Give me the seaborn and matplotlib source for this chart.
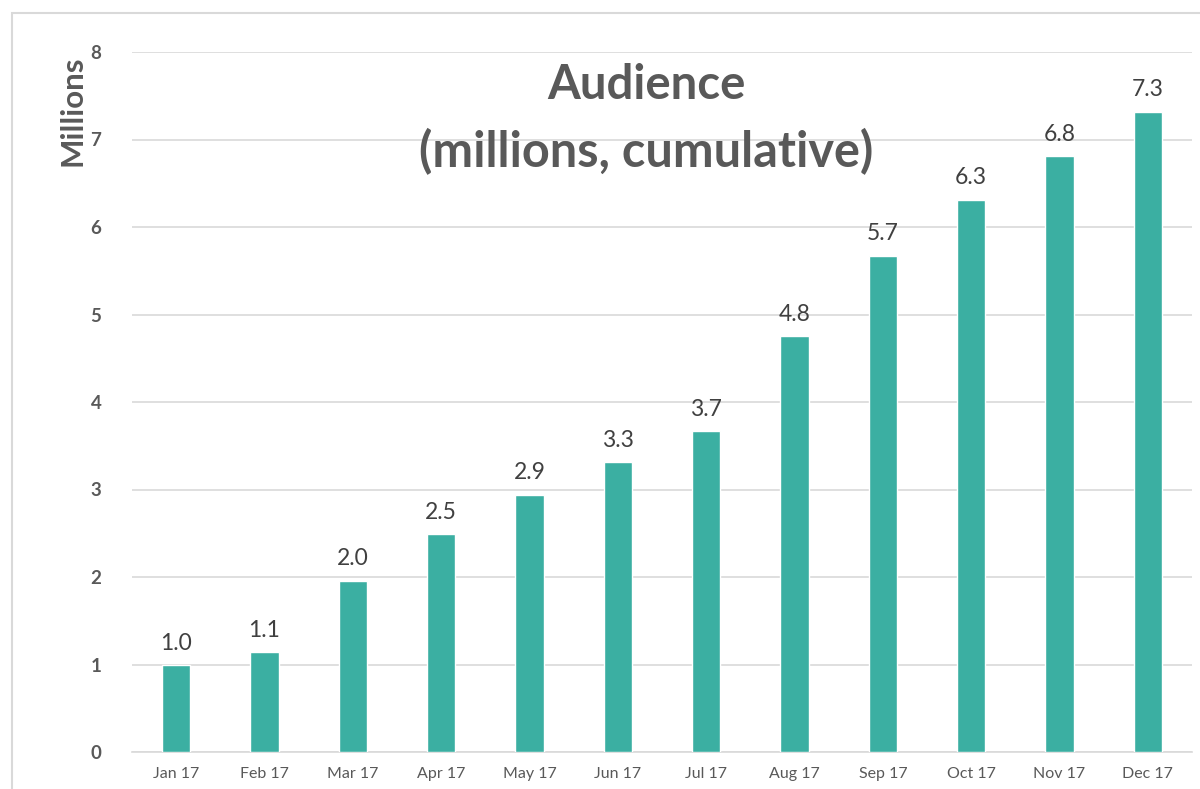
import matplotlib
matplotlib.use("Agg")
import matplotlib.pyplot as plt
import seaborn as sns
import pandas as pd
from matplotlib.patches import Rectangle

months = ["Jan 17", "Feb 17", "Mar 17", "Apr 17", "May 17", "Jun 17",
          "Jul 17", "Aug 17", "Sep 17", "Oct 17", "Nov 17", "Dec 17"]
audience = [0.99, 1.14, 1.96, 2.49, 2.94, 3.31, 3.67, 4.75, 5.67, 6.31, 6.81, 7.32]
yticks = [0, 1, 2, 3, 4, 5, 6, 7, 8]

sns.set_theme(style="white")
plt.rcParams['font.family'] = ['Lato', 'DejaVu Sans']

df = pd.DataFrame({"month": months, "audience": audience})

fig = plt.figure(figsize=(12, 7.89), dpi=100)
ax = fig.add_axes([132/1200, 1-752/789, (1192-132)/1200, (752-52)/789])

# outer chart border
fig.patches.append(Rectangle((12/1200, -0.1), 1.2, 1-13/789+0.1, transform=fig.transFigure,
                             fill=False, edgecolor="#D9D9D9", linewidth=1.5, zorder=0))

sns.barplot(data=df, x="month", y="audience", color="#3BAFA2", width=0.32,
            saturation=1, ax=ax, zorder=3)

for i, v in enumerate(audience):
    ax.text(i, v + 0.13, f"{v:.1f}", ha="center", va="bottom", fontsize=16.5,
            color="#404040", zorder=4)

ax.set_ylim(0, 8)
ax.set_xlim(-0.5, len(months) - 0.5)
ax.set_yticks(yticks)
ax.set_yticklabels([str(t) for t in yticks], fontsize=13.5, fontweight="bold", color="#595959")
ax.yaxis.grid(True, color="#D9D9D9", linewidth=1.2, zorder=0)
ax.set_axisbelow(True)
for s in ["top", "right", "left"]:
    ax.spines[s].set_visible(False)
ax.spines["bottom"].set_color("#D9D9D9")
ax.spines["bottom"].set_linewidth(1.2)
ax.tick_params(axis="y", length=0, pad=22)
ax.tick_params(axis="x", which="major", length=0, pad=11, labelsize=11.5, labelcolor="#595959")
ax.set_xticks([i - 0.5 for i in range(len(months) + 1)], minor=True)
ax.tick_params(axis="x", which="minor", length=6, width=1.2, color="#D9D9D9", direction="out")
ax.set_xlabel("")
ax.set_ylabel("")

fig.text(72/1200, 1-111/789, "Millions", rotation=90, ha="center", va="center",
         fontsize=22.5, fontweight="bold", color="#595959")

ax.text(646/1200, 1-85/789, "Audience", transform=fig.transFigure, ha="center", va="center",
        fontsize=34, fontweight="bold", color="#595959", zorder=5)
ax.text(646/1200, 1-152/789, "(millions, cumulative)", transform=fig.transFigure, ha="center",
        va="center", fontsize=35, fontweight="bold", color="#595959", zorder=5)

fig.savefig("out.png", dpi=100)
